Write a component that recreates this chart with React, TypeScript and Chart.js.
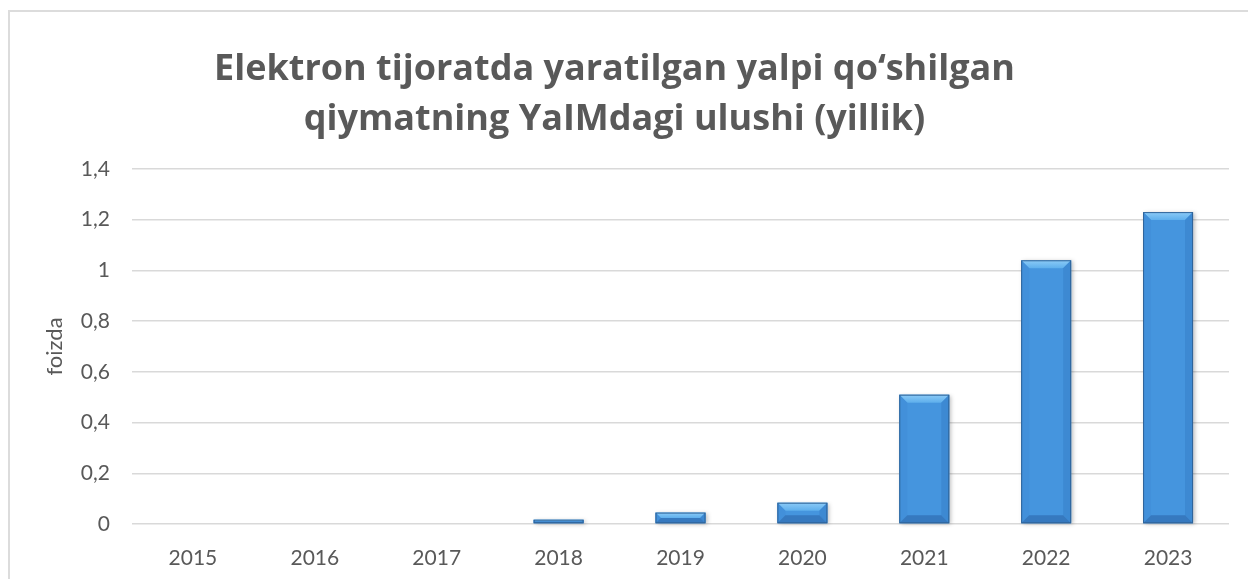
import React, { useEffect, useRef } from "react";
import { Chart, registerables } from "chart.js";

Chart.register(...registerables);

const titleLines = ["Elektron tijoratda yaratilgan yalpi qo‘shilgan", "qiymatning YaIMdagi ulushi (yillik)"];
const yAxisTitle = "foizda";
const years = ["2015", "2016", "2017", "2018", "2019", "2020", "2021", "2022", "2023"];
const shareValues = [0, 0, 0, 0.017, 0.045, 0.084, 0.51, 1.04, 1.23];
const yMin = 0;
const yMax = 1.4;
const yStep = 0.2;

const TEXT = "#595959";
const FONT = "Lato, 'Open Sans', sans-serif";
const TITLE_FONT = "'Open Sans', Lato, sans-serif";

const bevelPlugin = {
  id: "bevelBars",
  afterDatasetsDraw(chart: any) {
    const ctx = chart.ctx as CanvasRenderingContext2D;
    const meta = chart.getDatasetMeta(0);
    meta.data.forEach((el: any) => {
      const { x, y, base, width } = el.getProps(["x", "y", "base", "width"], true);
      const l = x - width / 2;
      const r = x + width / 2;
      const t = Math.min(y, base);
      const bot = Math.max(y, base);
      const h = bot - t;
      if (h < 0.5) return;
      const b = Math.min(8, h / 2, width / 2);
      ctx.save();
      ctx.shadowColor = "rgba(0,0,0,0.25)";
      ctx.shadowBlur = 4;
      ctx.shadowOffsetX = 2;
      ctx.shadowOffsetY = 1;
      ctx.fillStyle = "#4595de";
      ctx.fillRect(l, t, width, h);
      ctx.shadowColor = "transparent";
      ctx.shadowBlur = 0;
      ctx.shadowOffsetX = 0;
      ctx.shadowOffsetY = 0;
      // top bevel
      const g = ctx.createLinearGradient(0, t, 0, t + b);
      g.addColorStop(0, "#8ccbf7");
      g.addColorStop(1, "#5eafec");
      ctx.beginPath();
      ctx.moveTo(l, t);
      ctx.lineTo(r, t);
      ctx.lineTo(r - b, t + b);
      ctx.lineTo(l + b, t + b);
      ctx.closePath();
      ctx.fillStyle = g;
      ctx.fill();
      // left bevel
      ctx.beginPath();
      ctx.moveTo(l, t);
      ctx.lineTo(l + b, t + b);
      ctx.lineTo(l + b, bot - b);
      ctx.lineTo(l, bot);
      ctx.closePath();
      ctx.fillStyle = "#4290da";
      ctx.fill();
      // right bevel
      ctx.beginPath();
      ctx.moveTo(r, t);
      ctx.lineTo(r - b, t + b);
      ctx.lineTo(r - b, bot - b);
      ctx.lineTo(r, bot);
      ctx.closePath();
      ctx.fillStyle = "#3d89d2";
      ctx.fill();
      // bottom bevel
      ctx.beginPath();
      ctx.moveTo(l, bot);
      ctx.lineTo(l + b, bot - b);
      ctx.lineTo(r - b, bot - b);
      ctx.lineTo(r, bot);
      ctx.closePath();
      ctx.fillStyle = "#3679bf";
      ctx.fill();
      // border
      ctx.strokeStyle = "#2f6398";
      ctx.lineWidth = 1;
      ctx.strokeRect(l + 0.5, t + 0.5, width - 1, h - 1);
      ctx.restore();
    });
  },
};

export default function App() {
  const ref = useRef<HTMLCanvasElement | null>(null);

  useEffect(() => {
    if (!ref.current) return;
    const chart = new Chart(ref.current, {
      type: "bar",
      data: {
        labels: years,
        datasets: [
          {
            data: shareValues,
            backgroundColor: "rgba(0,0,0,0)",
            borderWidth: 0,
            barPercentage: 0.41,
            categoryPercentage: 1,
          },
        ],
      },
      options: {
        animation: false,
        responsive: false,
        devicePixelRatio: 1,
        layout: { padding: { left: 0, right: 19, top: 0, bottom: 0 } },
        plugins: {
          legend: { display: false },
          tooltip: { enabled: false },
          title: {
            display: true,
            text: titleLines,
            color: TEXT,
            font: { family: TITLE_FONT, size: 36, weight: "bold", lineHeight: 50 / 36 },
            padding: { top: 45, bottom: 24 },
          },
        },
        scales: {
          x: {
            grid: { display: false, drawTicks: false },
            border: { display: false },
            ticks: { color: TEXT, font: { family: FONT, size: 21 }, padding: 22, maxRotation: 0 },
            afterFit: (s: any) => {
              s.height = 55;
            },
          },
          y: {
            min: yMin,
            max: yMax,
            grid: { color: "#d9d9d9", lineWidth: 1.5, drawTicks: false },
            border: { display: false },
            ticks: {
              stepSize: yStep,
              color: TEXT,
              font: { family: FONT, size: 21 },
              padding: 22,
              callback: (v: any) => String(Number(Number(v).toFixed(1))).replace(".", ","),
            },
            title: {
              display: true,
              text: yAxisTitle,
              color: TEXT,
              font: { family: FONT, size: 22 },
              padding: { top: 42, bottom: 0 },
            },
            afterFit: (s: any) => {
              s.width = 132;
            },
          },
        },
      },
      plugins: [bevelPlugin],
    });
    return () => chart.destroy();
  }, []);

  return (
    <div>
      <div
        style={{
          position: "fixed",
          left: 8,
          top: 10,
          width: 1400,
          height: 800,
          border: "2px solid #dcdcdc",
          boxSizing: "border-box",
          background: "#fff",
        }}
      />
      <canvas
        ref={ref}
        width={1248}
        height={579}
        style={{ position: "fixed", left: 0, top: 0, width: 1248, height: 579 }}
      />
    </div>
  );
}
